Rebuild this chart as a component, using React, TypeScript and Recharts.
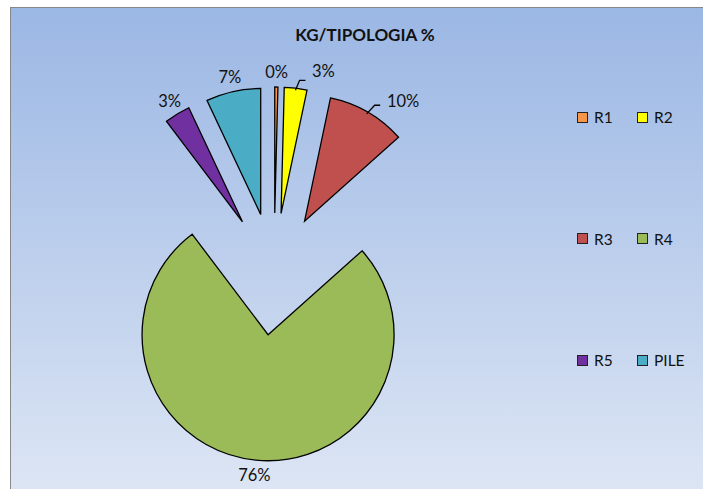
import React from 'react';
import { PieChart, Pie, Cell, Legend } from 'recharts';

// chart data
const names = ['R1', 'R2', 'R3', 'R4', 'R5', 'PILE'];
const values = [0.4, 2.9, 10.1, 76.3, 3.3, 7.0];
const colors = ['#F79646', '#FFFF00', '#C0504D', '#9BBB59', '#7030A0', '#4BACC6'];

const TOTAL = values.reduce((s, v) => s + v, 0);
const RAD = Math.PI / 180;

// exploded pie geometry (chart coords)
const CX = 263;
const CY = 266;
const R = 126;
const EXPLODE = 61;

// labels that Excel pushed aside with a leader line
const LABEL_SHIFT: Record<string, [number, number]> = {
  R2: [26, -2],
  R3: [28, 2],
};

// start angle of each slice, clockwise from 12 o'clock
const slices = values.map((v, i) => {
  const before = values.slice(0, i).reduce((s, x) => s + x, 0);
  const a0 = (before / TOTAL) * 360;
  const a1 = ((before + v) / TOTAL) * 360;
  const mid = (a0 + a1) / 2;
  return {
    name: names[i],
    value: v,
    startAngle: 90 - a0,
    endAngle: 90 - a1,
    cx: CX + EXPLODE * Math.sin(mid * RAD),
    cy: CY - EXPLODE * Math.cos(mid * RAD),
  };
});

const renderLabel = (props: any) => {
  const { cx, cy, midAngle, outerRadius, name, value } = props;
  const cos = Math.cos(-midAngle * RAD);
  const sin = Math.sin(-midAngle * RAD);
  const r = outerRadius + 15;
  const shift = LABEL_SHIFT[name];
  const x = cx + r * cos + (shift ? shift[0] : 0);
  const y = cy + r * sin + (shift ? shift[1] : 0);
  const text = `${Math.round((value / TOTAL) * 100)}%`;
  let leader = null;
  if (shift) {
    const p0x = cx + (outerRadius - 2) * cos;
    const p0y = cy + (outerRadius - 2) * sin;
    const p1x = cx + (outerRadius + 8) * cos + 3;
    const p1y = cy + (outerRadius + 8) * sin;
    const p2x = x - (name === 'R2' ? 18 : 23);
    leader = (
      <polyline
        points={`${p0x},${p0y} ${p1x},${p1y} ${p2x},${p1y}`}
        fill="none"
        stroke="#000"
        strokeWidth={1.3}
      />
    );
  }
  return (
    <g>
      {leader}
      <text
        x={x}
        y={y}
        textAnchor="middle"
        dominantBaseline="central"
        fontFamily="Lato, sans-serif"
        fontSize={16.5}
        fill="#111"
      >
        {text}
      </text>
    </g>
  );
};

const LegendGrid = () => (
  <div style={{ position: 'relative', width: 130, height: 270 }}>
    {names.map((n, i) => (
      <div
        key={n}
        style={{
          position: 'absolute',
          left: (i % 2) * 60,
          top: Math.floor(i / 2) * 121.5,
          height: 16,
          display: 'flex',
          alignItems: 'center',
          fontFamily: 'Lato, sans-serif',
          fontSize: 15.5,
          color: '#111',
          whiteSpace: 'nowrap',
        }}
      >
        <span
          style={{
            display: 'inline-block',
            width: 9,
            height: 9,
            background: colors[i],
            border: '1px solid #222',
            marginRight: 6,
          }}
        />
        {n}
      </div>
    ))}
  </div>
);

export default function App() {
  return (
    <div
      style={{
        position: 'absolute',
        left: 10,
        top: 7,
        width: 692,
        height: 481,
        borderLeft: '1px solid #878787',
        borderTop: '1px solid #878787',
        background: 'linear-gradient(to bottom, #9BB7E4 0%, #DCE5F4 100%)',
        overflow: 'hidden',
      }}
    >
      <div
        style={{
          position: 'absolute',
          left: 354,
          top: 16,
          transform: 'translateX(-50%)',
          fontFamily: 'Lato, sans-serif',
          fontWeight: 700,
          fontSize: 17,
          color: '#111',
          whiteSpace: 'nowrap',
        }}
      >
        KG/TIPOLOGIA %
      </div>
      <PieChart width={692} height={481} margin={{ top: 0, right: 0, bottom: 0, left: 0 }}>
        {slices.map((s, i) => (
          <Pie
            key={s.name}
            data={[{ name: s.name, value: s.value }]}
            dataKey="value"
            nameKey="name"
            cx={s.cx}
            cy={s.cy}
            outerRadius={R}
            startAngle={s.startAngle}
            endAngle={s.endAngle}
            stroke="#000"
            strokeWidth={1.3}
            label={renderLabel}
            labelLine={false}
            isAnimationActive={false}
          >
            <Cell fill={colors[i]} />
          </Pie>
        ))}
        <Legend
          layout="vertical"
          align="right"
          verticalAlign="top"
          content={<LegendGrid />}
          wrapperStyle={{ left: 566, top: 101, right: 'auto', width: 130 }}
        />
      </PieChart>
    </div>
  );
}
